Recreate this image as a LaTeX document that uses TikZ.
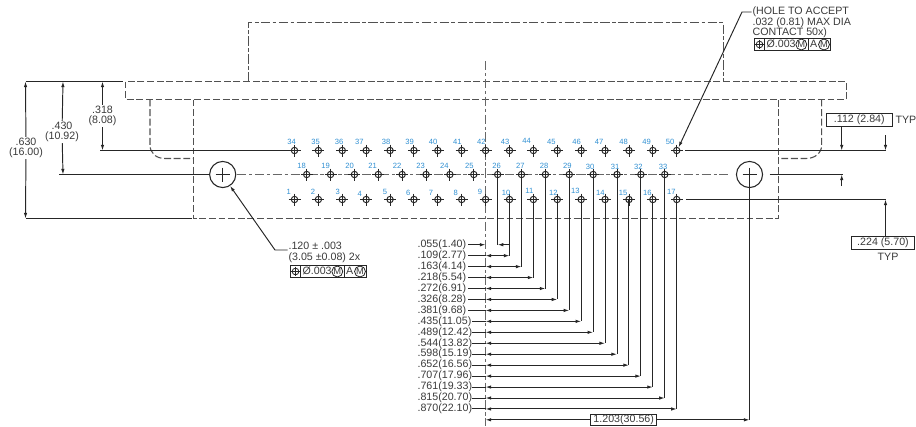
\documentclass[tikz,border=0pt]{standalone}
\usepackage{fontspec}
\setmainfont{Liberation Sans}
\usetikzlibrary{arrows.meta}
\definecolor{ink}{HTML}{262626}
\definecolor{txt}{HTML}{3A3A3A}
\definecolor{pinblue}{HTML}{2F8FD2}
\tikzset{
  hidden/.style={draw=ink!80,line width=0.8pt,dash pattern=on 5.2pt off 2pt},
  phantomline/.style={draw=ink!80,line width=0.8pt,dash pattern=on 7pt off 1.8pt on 2.8pt off 1.8pt},
  centerline/.style={draw=ink!70,line width=0.9pt,dash pattern=on 7pt off 2pt on 2.4pt off 2pt},
  thin dim/.style={draw=ink,line width=0.72pt},
  ext/.style={draw=ink,line width=0.8pt},
  dimarrow/.style={thin dim,-{Latex[length=4.2pt,width=2.6pt]}},
  dimboth/.style={thin dim,{Latex[length=4.2pt,width=2.6pt]}-{Latex[length=4.2pt,width=2.6pt]}},
  lbl/.style={font=\fontsize{8}{7.9}\selectfont,text=txt,inner sep=0.6pt,align=center},
  lbll/.style={lbl,align=left,anchor=west},
  pinnum/.style={font=\fontsize{5.7}{6}\selectfont,text=pinblue,inner sep=0pt},
  pinhole/.style={circle,draw=ink,line width=0.72pt,minimum size=4.8pt,inner sep=0pt},
  bighole/.style={circle,draw=ink,line width=0.8pt,minimum size=19.6pt,inner sep=0pt},
  boxed/.style={lbl,draw=ink,line width=0.72pt,inner sep=0pt,minimum height=9.3pt},
  circm/.style={circle,draw=ink,line width=0.6pt,font=\fontsize{7}{7}\selectfont,text=txt,inner sep=0pt,minimum size=8.2pt},
  frame/.style={draw=ink,line width=0.65pt,fill=none,inner sep=0pt}
}
% feature control frame, drawn at the position of the lower-left one, moved by a shift
\newcommand{\ctrlframe}[3]{%
 \begin{scope}[shift={(#2,#3)}]
  \node[frame,minimum width=57pt,minimum height=9pt] (#1box) at (328.5,271.5) {};
  \node[frame,minimum width=7.5pt,minimum height=9pt] (#1cellA) at (295.5,271.5) {};
  \node[frame,minimum width=33pt,minimum height=9pt] (#1cellB) at (322.5,271.5) {};
  \node[circle,draw=ink,line width=0.6pt,minimum size=5pt,inner sep=0pt] (#1pos) at (295.5,271.5) {};
  \draw[ink,line width=0.55pt] (#1pos.center) ++(-4.8,0) -- ++(9.6,0) (#1pos.center) ++(0,-4.8) -- ++(0,9.6);
  \node[lbl,anchor=west] (#1tol) at (301.5,271) {Ø.003};
  \node[circm] (#1m1) at (337.3,271.5) {M};
  \node[lbl] (#1a) at (349.6,271) {A};
  \node[circm] (#1m2) at (360,271.5) {M};
 \end{scope}}
\begin{document}
\begin{tikzpicture}[x=0.75pt,y=-0.75pt]
\useasboundingbox (0,0) rectangle (916,426);
% outline
\draw[phantomline] (248.5,81.5) -- (248.5,22.5) -- (723.5,22.5) -- (723.5,81.5);
\draw[hidden] (125.5,81.5) rectangle (846.5,99.5);
\draw[hidden] (193.5,99.5) -- (193.5,218.5) -- (778.5,218.5) -- (778.5,99.5);
\draw[hidden] (150,99.5) -- (150,145) .. controls (150,153) and (156,158.5) .. (165,158.5) -- (193.5,158.5);
\draw[hidden] (821.7,99.5) -- (821.7,145) .. controls (821.7,153) and (815,158.5) .. (806,158.5) -- (778.5,158.5);
% centre lines
\draw[centerline] (237,174.5) -- (728,174.5);
\draw[centerline] (485.5,61) -- (485.5,426);
% holes
\node[bighole] (hl) at (222.7,174.5) {};
\node[bighole] (hr) at (749.5,174.5) {};
\draw[ink,line width=0.72pt] (hl.center) ++(-7,0) -- ++(14,0) (hl.center) ++(0,-7) -- ++(0,14);
\draw[ink,line width=0.72pt] (hr.center) ++(-7,0) -- ++(14,0);
\foreach \n in {1,...,17}{\node[pinhole] (p\n) at ({294.5+23.89*(\n-1)},199.5) {};}
\foreach \n in {34,...,50}{\node[pinhole] (p\n) at ({294.5+23.89*(\n-34)},150.5) {};}
\foreach \n in {18,...,33}{\node[pinhole] (p\n) at ({306.7+23.87*(\n-18)},174.5) {};}
\foreach \n in {1,...,50}{\draw[ink,line width=0.7pt] (p\n.center) ++(-6,0) -- ++(12,0) (p\n.center) ++(0,-6) -- ++(0,12);}
% pin numbers
\foreach \n/\x/\y in {34/291.7/141.7,35/315.7/142,36/339/142,37/359.3/141.7,38/386/142,39/409.7/142,40/433/142,41/457.3/142,42/481.3/141.7,43/505/142,44/526.7/141.3,45/551.3/142,46/576.7/142,47/599/142,48/623.7/142,49/646.7/142,50/670/142,
18/301.7/165.7,19/325.7/166.3,20/349.7/166.3,21/372.7/166,22/397/166.3,23/420.7/166.3,24/444.3/166,25/469.3/166,26/496.7/166.3,27/520.3/166,28/544/166.3,29/567.3/166,30/590/167,31/615/167.3,32/638.3/167.3,33/663/167.3,
1/288.7/192.3,2/313/192.3,3/337.7/192.3,4/359.7/193.7,5/385/192.3,6/408.3/192.7,7/431/193.3,8/455.7/193.3,9/480/192.3,10/506/192.7,11/529.3/191.3,12/553.3/192.7,13/575.3/191.3,14/600.3/192.7,15/623/192.7,16/647.3/192.7,17/671.3/192}
  {\node[pinnum] (n\n) at (\x,\y) {\n};}
% left dimensions
\coordinate (tl) at (123,81.5);
\coordinate (a630t) at (25.5,81.5);
\coordinate (a630b) at (25.5,218.5);
\coordinate (a430t) at (63,81.5);
\coordinate (a430b) at (63,174.5);
\coordinate (a318t) at (102.5,81.5);
\coordinate (a318b) at (102.5,150.5);
\coordinate (e318) at (100,150.5);
\coordinate (e430) at (59,174.5);
\coordinate (e630) at (26,218.5);
\draw[ext] (a630t) -- (tl);
\draw[ext] (e318) -- (p34);
\draw[ext] (e430) -- (hl);
\draw[ext] (e630) -- (192,218.5);
\node[lbl] (d318) at (102.5,116) {.318\\(8.08)};
\node[lbl] (d430) at (62,132) {.430\\(10.92)};
\node[lbl] (d630) at (26,148) {.630\\(16.00)};
\foreach \d/\t/\b in {d318/a318t/a318b,d430/a430t/a430b,d630/a630t/a630b}{
  \draw[dimarrow] (\d) -- (\t);
  \draw[dimarrow] (\d) -- (\b);
}
% right dimensions
\coordinate (r1) at (885.5,150.5);
\coordinate (r2) at (842.6,174.5);
\coordinate (r3) at (885.5,199.5);
\draw[ext] (p50) ++(8,0) -- (r1);
\draw[ext] (hr) ++(20,0) -- (r2);
\draw[ext] (p17) ++(9,0) -- (r3);
\node[boxed,minimum width=49.5pt] (b112) at (859.3,120) {.112 (2.84)};
\node[lbl,anchor=west] (t112) at (894.5,120) {TYP};
\coordinate (u112) at (841.7,150.5);
\coordinate (v112) at (885.5,135);
\coordinate (w112) at (885.5,150.5);
\draw[dimarrow] (b112.south -| u112) -- (u112);
\draw[dimarrow] (v112) -- (w112);
\coordinate (x112) at (841.7,186);
\coordinate (y112) at (841.7,174.5);
\draw[dimarrow] (x112) -- (y112);
\node[boxed,minimum width=47.5pt] (b224) at (883,243) {.224 (5.70)};
\node[lbl] (t224) at (888,257) {TYP};
\draw[dimarrow] (b224.north -| r3) -- (r3);
% pin offsets
\foreach \i/\p/\l/\k in {1/26/.055(1.40)/468,2/10/.109(2.77)/468,3/27/.163(4.14)/468,4/11/.218(5.54)/468,5/28/.272(6.91)/468,6/12/.326(8.28)/468,7/29/.381(9.68)/468,8/13/.435(11.05)/472,9/30/.489(12.42)/472,10/14/.544(13.82)/472,11/31/.598(15.19)/472,12/15/.652(16.56)/472,13/32/.707(17.96)/472,14/16/.761(19.33)/472,15/33/.815(20.70)/472,16/17/.870(22.10)/472}{
  \pgfmathsetmacro{\yy}{244.7+10.95*(\i-1)}
  \node[lbll] (l\i) at (416.5,\yy) {\l};
  \coordinate (c\i) at (485.5,\yy);
  \coordinate (s\i) at (\k,\yy);
  \draw[thin dim] (p\p.center) -- (p\p.center |- c\i);
  \ifnum\i=1
    \draw[dimarrow] (s\i) -- (c\i);
    \coordinate (f\i) at (509.3,\yy);
    \draw[dimarrow] (f\i) -- (p\p.center |- c\i);
  \else
    \draw[thin dim] (s\i) -- (c\i);
    \draw[dimboth] (c\i) -- (p\p.center |- c\i);
  \fi
}
% 1.203
\node[boxed,minimum width=49.5pt,minimum height=8.4pt] (b1203) at (623.7,419.8) {1.203(30.56)};
\coordinate (c17) at (485.5,419.8);
\coordinate (hb) at (749.5,419.8);
\draw[dimarrow] (b1203) -- (c17);
\draw[dimarrow] (b1203) -- (hb);
\draw[thin dim] (hr.center) ++(0,-7) -- (hb);
% leaders
\node[lbll] (tl1) at (287.5,252.5) {.120 ± .003\\(3.05 ±0.08) 2x};
\coordinate (ll) at (275,250);
\draw[dimarrow] (tl1.west |- ll) -- (ll) -- (hl.-57);
\node[lbll] (tl2) at (751.5,22.5) {(HOLE TO ACCEPT\\.032 (0.81) MAX DIA\\CONTACT 50x)};
\coordinate (lr) at (742,12);
\draw[dimarrow] (tl2.west |- lr) -- (lr) -- (p50.60);
\ctrlframe{fa}{0}{0}
\ctrlframe{fb}{464}{-227}
\end{tikzpicture}
\end{document}
